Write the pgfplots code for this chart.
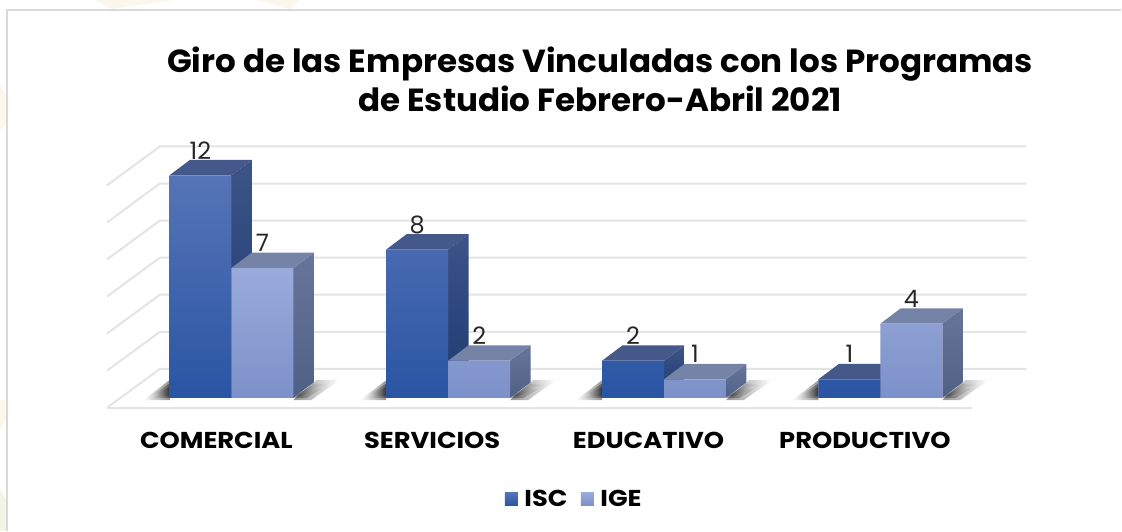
\documentclass[border=0pt]{standalone}
\usepackage{pgfplots}
\usepackage{pgfplotstable}
\usepackage{fontspec}
\pgfplotsset{compat=1.18}
\setmainfont{Poppins}
\definecolor{gridc}{HTML}{E4E4E4}
\definecolor{isctop}{HTML}{5674B7}\definecolor{iscmid}{HTML}{3262B2}\definecolor{iscbot}{HTML}{2A55A3}
\definecolor{igetop}{HTML}{9AAADB}\definecolor{igemid}{HTML}{8FA4DA}\definecolor{igebot}{HTML}{7C91C9}
\definecolor{iscsa}{HTML}{3C5488}\definecolor{iscsb}{HTML}{1D3A70}\definecolor{isctf}{HTML}{44598A}
\definecolor{igesa}{HTML}{68759B}\definecolor{igesb}{HTML}{506085}\definecolor{igetf}{HTML}{7583A6}
\definecolor{creama}{HTML}{FBF7EC}\definecolor{creamb}{HTML}{F3F3E6}
\newfontfamily\widefont[FakeStretch=1.12]{Poppins}
\newfontfamily\titlefont[FakeStretch=1.018]{Poppins}
\pgfplotstableread{
xisc isc xige ige
200.5 12 262.5 7
417.5 8 479.5 2
633.5 2 695.5 1
850 1 912 4
}\datatable
% side and top faces of a bar: left x, right x, value, side colours, top colour
\newcommand{\barfaces}[5]{%
  \pgfmathsetmacro{\xb}{#2+20.5}\pgfmathsetmacro{\xc}{#1+20.5}\pgfmathsetmacro{\vb}{#3+0.83}%
  \addplot[forget plot,draw=none,#4] coordinates {(#2,0) (#2,#3) (\xb,\vb) (\xb,0.83)} -- cycle;
  \addplot[forget plot,draw=none,fill=#5] coordinates {(#1,#3) (#2,#3) (\xb,\vb) (\xc,\vb)} -- cycle;
}
% one layer of a soft shadow: left x, right x, shrink step
\newcommand{\shadowlayer}[3]{%
  \pgfmathsetmacro{\la}{#1-26+#3*4}\pgfmathsetmacro{\ra}{#2+23-#3*3}\pgfmathsetmacro{\rb}{#2+46-#3*8}\pgfmathsetmacro{\rc}{#2+18-#3*5}%
  \pgfmathsetmacro{\ta}{0.95-#3*0.18}\pgfmathsetmacro{\ba}{-0.12+#3*0.1}%
  \addplot[forget plot,draw=none,opacity=0.42,left color=white,right color=black] coordinates {(\la,\ba) (#1,\ta) (#1,\ba)} -- cycle;
  \addplot[forget plot,draw=none,opacity=0.42,left color=black,right color=white] coordinates {(#2,\ba) (\ra,\ta) (\rb,\ta) (\rc,\ba)} -- cycle;
}
\newcommand{\barshadow}[2]{\shadowlayer{#1}{#2}{0}\shadowlayer{#1}{#2}{1}\shadowlayer{#1}{#2}{2}}
\newcommand{\vlabel}[2]{\node[font=\fontsize{24}{24}\selectfont,text=black!85] at (axis cs:#1,#2+1.35) {#2};}
\begin{document}
\begin{tikzpicture}[x=1pt,y=1pt]
% faint background outside the chart frame (y counted up from the bottom)
\fill[white] (0,0) rectangle (1122,531);
\fill[creama] (95,531) -- (172,531) -- (112,522) -- cycle;
\fill[creama] (258,531) -- (290,522) -- (300,531) -- cycle;
\fill[creama] (0,446) -- (6,436) -- (6,406) -- (0,401) -- cycle;
\fill[creama] (0,131) -- (6,131) -- (6,111) -- (0,101) -- cycle;
\fill[creamb] (0,41) -- (6,31) -- (6,0) -- (0,0) -- cycle;
\draw[color=black!15,line width=1.6pt] (7,0) -- (7,521) -- (1122,521);
\begin{axis}[
  at={(0pt,0pt)},anchor=south west,
  scale only axis,width=1122pt,height=531pt,
  xmin=0,xmax=1122,ymin=-7.170,ymax=21.455,
  clip=false,
  axis line style={draw=none},
  major tick length=0pt,
  ytick=\empty,
  xtick={216.5,432.5,649,865.5},
  xticklabels={COMERCIAL,SERVICIOS,EDUCATIVO,PRODUCTIVO},
  x tick label style={font=\fontsize{23}{23}\selectfont\widefont\bfseries,yshift=90pt,anchor=center,inner sep=0pt},
  legend style={at={(0.4475,0.06)},anchor=west,draw=none,fill=none,legend columns=2,
    font=\fontsize{23}{23}\selectfont\widefont\bfseries,
    /tikz/every odd column/.append style={column sep=4.5pt},
    /tikz/every even column/.append style={column sep=11.5pt}},
  legend cell align=left,
  legend image code/.code={\fill[draw=none,#1] (0pt,-6.5pt) rectangle (13pt,6.5pt);},
]
% grid
\addplot[forget plot,gridc,line width=2pt] coordinates {(107,-0.54) (973,-0.54)};
\addplot[forget plot,gridc,line width=2pt] coordinates {(107,-0.54) (160,1.56) (1027,1.56)};
\addplot[forget plot,gridc,line width=2pt] coordinates {(107,1.46) (160,3.56) (1027,3.56)};
\addplot[forget plot,gridc,line width=2pt] coordinates {(107,3.46) (160,5.56) (1027,5.56)};
\addplot[forget plot,gridc,line width=2pt] coordinates {(107,5.46) (160,7.56) (1027,7.56)};
\addplot[forget plot,gridc,line width=2pt] coordinates {(107,7.46) (160,9.56) (1027,9.56)};
\addplot[forget plot,gridc,line width=2pt] coordinates {(107,9.46) (160,11.56) (1027,11.56)};
\addplot[forget plot,gridc,line width=2pt] coordinates {(107,11.46) (160,13.56) (1027,13.56)};
% shadows
\barshadow{169.5}{293.5}
\barshadow{386.5}{510.5}
\barshadow{602.5}{726.5}
\barshadow{819}{943}
% ISC
\barfaces{169.5}{231.5}{12}{top color=iscsa,bottom color=iscsb}{isctf}
\barfaces{386.5}{448.5}{8}{top color=iscsa,bottom color=iscsb}{isctf}
\barfaces{602.5}{664.5}{2}{top color=iscsa,bottom color=iscsb}{isctf}
\barfaces{819}{881}{1}{top color=iscsa,bottom color=iscsb}{isctf}
\addplot[forget plot,ybar,bar shift=0pt,bar width=62pt,draw=none,top color=isctop,middle color=iscmid,bottom color=iscbot] table[x=xisc,y=isc] {\datatable};
% IGE
\barfaces{231.5}{293.5}{7}{top color=igesa,bottom color=igesb}{igetf}
\barfaces{448.5}{510.5}{2}{top color=igesa,bottom color=igesb}{igetf}
\barfaces{664.5}{726.5}{1}{top color=igesa,bottom color=igesb}{igetf}
\barfaces{881}{943}{4}{top color=igesa,bottom color=igesb}{igetf}
\addplot[forget plot,ybar,bar shift=0pt,bar width=62pt,draw=none,top color=igetop,middle color=igemid,bottom color=igebot] table[x=xige,y=ige] {\datatable};
% labels
\vlabel{200.5}{12}\vlabel{262.5}{7}
\vlabel{417.5}{8}\vlabel{479.5}{2}
\vlabel{633.5}{2}\vlabel{695.5}{1}
\vlabel{850}{1}\vlabel{912}{4}
\addlegendimage{top color=isctop,bottom color=iscbot}\addlegendentry{ISC}
\addlegendimage{top color=igetop,bottom color=igebot}\addlegendentry{IGE}
\end{axis}
\node[align=center,font=\fontsize{32}{39}\selectfont\titlefont\bfseries,anchor=center] at (600.5,451.5)
  {Giro de las Empresas Vinculadas con los Programas\\de Estudio Febrero-Abril 2021};
\end{tikzpicture}
\end{document}
